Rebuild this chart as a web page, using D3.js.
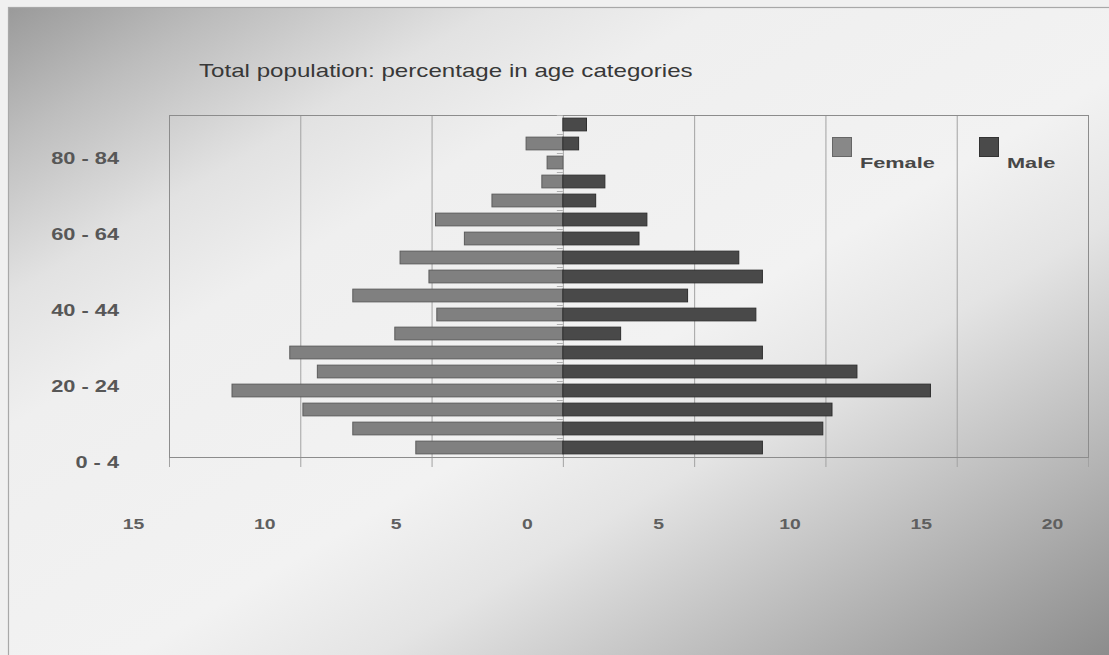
<!DOCTYPE html>
<html>
<head>
<meta charset="utf-8">
<script src="https://cdn.jsdelivr.net/npm/d3@7"></script>
<style>
  html, body { margin: 0; padding: 0; background: #f0f0f0; }
  svg { display: block; }
  text { font-family: "Liberation Sans", Arial, sans-serif; }
</style>
</head>
<body>
<svg id="chart" width="1109" height="655"></svg>
<script>
// Age groups, youngest first (drawn bottom to top)
const ageGroups = ["0 - 4", "5 - 9", "10 - 14", "15 - 19", "20 - 24", "25 - 29",
  "30 - 34", "35 - 39", "40 - 44", "45 - 49", "50 - 54", "55 - 59",
  "60 - 64", "65 - 69", "70 - 74", "75 - 79", "80 - 84", "85+"];

// Percentage of the population in each age group
const female = [5.6, 8.0, 9.9, 12.6, 9.35, 10.4, 6.4, 4.8, 8.0, 5.1, 6.2, 3.75,
  4.85, 2.7, 0.8, 0.6, 1.4, 0];
const male = [7.6, 9.9, 10.25, 14.0, 11.2, 7.6, 2.2, 7.35, 4.75, 7.6, 6.7, 2.9,
  3.2, 1.25, 1.6, 0, 0.6, 0.9];

// Value axis: females run to the left of zero, males to the right
const xTicks = [-15, -10, -5, 0, 5, 10, 15, 20];
const yLabelGroups = ["0 - 4", "20 - 24", "40 - 44", "60 - 64", "80 - 84"];
const seriesNames = ["Female", "Male"];
const seriesColors = ["#808080", "#494949"];
const seriesStrokes = ["#5c5c5c", "#2e2e2e"];

const svg = d3.select("#chart");
const W = 1109, H = 655;
const plot = { left: 169, right: 1088, top: 115, bottom: 457 };

// Widen text horizontally to the proportions used throughout the chart
function widen(sel, k) {
  sel.each(function () {
    const w = this.getComputedTextLength();
    d3.select(this).attr("textLength", w * k).attr("lengthAdjust", "spacingAndGlyphs");
  });
}

// Background: diagonal grey shading with a light middle
const defs = svg.append("defs");
const grad = defs.append("linearGradient").attr("id", "bg")
  .attr("x1", 0).attr("y1", 0).attr("x2", 1).attr("y2", 1);
[[0, "#9a9a9a"], [0.1, "#bdbdbd"], [0.22, "#e2e2e2"], [0.32, "#efefef"],
 [0.55, "#f2f2f2"], [0.66, "#e4e4e4"], [0.78, "#c4c4c4"], [0.9, "#a4a4a4"], [1, "#8a8a8a"]]
  .forEach(([o, c]) => grad.append("stop").attr("offset", o).attr("stop-color", c));

svg.append("rect").attr("width", W).attr("height", H).attr("fill", "#f0f0f0");
svg.append("rect").attr("x", 8.5).attr("y", 7.5).attr("width", W).attr("height", H)
  .attr("fill", "url(#bg)").attr("stroke", "#a8a8a8").attr("stroke-width", 1.2);

// Scales
const x = d3.scaleLinear().domain([-15, 20]).range([plot.left, plot.right]);
const y = d3.scaleBand().domain(ageGroups)
  .range([plot.bottom, plot.top]).paddingInner(0.33).paddingOuter(0.165);

// Vertical gridlines with small ticks below the plot area
const g = svg.append("g");
g.selectAll("line.grid").data(xTicks).join("line")
  .attr("class", "grid")
  .attr("x1", d => x(d) + 0.5).attr("x2", d => x(d) + 0.5)
  .attr("y1", plot.top).attr("y2", plot.bottom + 10)
  .attr("stroke", "#a2a2a2").attr("stroke-width", 1);

// Plot area frame
g.append("rect")
  .attr("x", plot.left + 0.5).attr("y", plot.top + 0.5)
  .attr("width", plot.right - plot.left).attr("height", plot.bottom - plot.top)
  .attr("fill", "none").attr("stroke", "#8c8c8c").attr("stroke-width", 1);

// Category ticks on the zero line
const bounds = ageGroups.map(a => y(a) - y.step() * y.paddingInner() / 2);
g.selectAll("line.ctick").data(bounds).join("line")
  .attr("class", "ctick")
  .attr("x1", x(0) - 6).attr("x2", x(0))
  .attr("y1", d => d + 0.5).attr("y2", d => d + 0.5)
  .attr("stroke", "#b0b0b0");

// Bars
const rows = ageGroups.map((a, i) => ({ age: a, f: female[i], m: male[i] }));
g.selectAll("rect.female").data(rows.filter(d => d.f > 0)).join("rect")
  .attr("class", "female")
  .attr("x", d => x(-d.f)).attr("width", d => x(0) - x(-d.f))
  .attr("y", d => y(d.age)).attr("height", y.bandwidth())
  .attr("fill", seriesColors[0]).attr("stroke", seriesStrokes[0]).attr("stroke-width", 1);
g.selectAll("rect.male").data(rows.filter(d => d.m > 0)).join("rect")
  .attr("class", "male")
  .attr("x", x(0)).attr("width", d => x(d.m) - x(0))
  .attr("y", d => y(d.age)).attr("height", y.bandwidth())
  .attr("fill", seriesColors[1]).attr("stroke", seriesStrokes[1]).attr("stroke-width", 1);

// Category axis labels
const yAxis = svg.append("g").attr("transform", `translate(${plot.left},0)`)
  .call(d3.axisLeft(y).tickValues(yLabelGroups).tickSize(0).tickPadding(50));
yAxis.select(".domain").remove();
yAxis.selectAll("text")
  .attr("y", 15).attr("dy", "0.35em")
  .attr("font-size", 16).attr("font-weight", "bold").attr("fill", "#575757")
  .attr("font-family", "'Liberation Sans', Arial, sans-serif")
  .call(widen, 1.36);

// Value axis labels (absolute values on both sides)
const xAxis = svg.append("g").attr("transform", `translate(0,${plot.bottom})`)
  .call(d3.axisBottom(x).tickValues(xTicks).tickSize(0).tickFormat(d => Math.abs(d)));
xAxis.select(".domain").remove();
xAxis.selectAll("text")
  .attr("x", -36).attr("y", 72).attr("dy", 0)
  .attr("font-size", 15.5).attr("font-weight", "bold").attr("fill", "#5f5f5f")
  .attr("font-family", "'Liberation Sans', Arial, sans-serif")
  .call(widen, 1.25);

// Title
svg.append("text")
  .attr("x", 199).attr("y", 77)
  .attr("font-size", 19).attr("fill", "#383838")
  .text("Total population: percentage in age categories")
  .call(widen, 1.27);

// Legend
const legendPos = [[832, 860], [979, 1007]];
const legend = svg.append("g").selectAll("g").data(seriesNames).join("g");
legend.append("rect")
  .attr("x", (d, i) => legendPos[i][0] + 0.5).attr("y", 137.5)
  .attr("width", 19).attr("height", 19)
  .attr("fill", (d, i) => i === 0 ? "#888" : "#4a4a4a")
  .attr("stroke", (d, i) => i === 0 ? "#666" : "#333");
legend.append("text")
  .attr("x", (d, i) => legendPos[i][1]).attr("y", 168)
  .attr("font-size", 15.5).attr("font-weight", "bold").attr("fill", "#474747")
  .text(d => d)
  .call(widen, 1.4);
</script>
</body>
</html>
